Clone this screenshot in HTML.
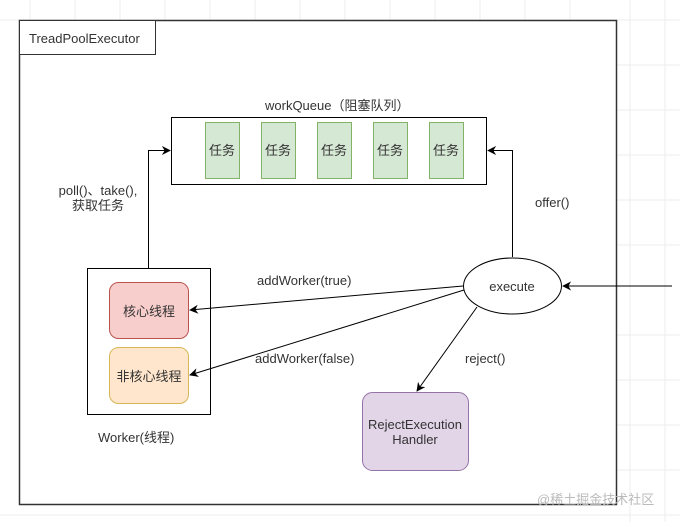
<!DOCTYPE html>
<html><head><meta charset="utf-8"><style>
body{margin:0;background:#fff}
svg text{font-family:"Liberation Sans","Noto Sans CJK SC",sans-serif;font-size:13px;fill:#333}
</style></head><body>
<svg width="680" height="522" viewBox="0 0 680 522" xmlns="http://www.w3.org/2000/svg">
<defs>
<marker id="a" viewBox="0 0 10 10" refX="9" refY="5" markerWidth="9" markerHeight="9" orient="auto" markerUnits="userSpaceOnUse"><path d="M0,0 L10,5 L0,10 L3,5 z" fill="#000"/></marker>
</defs>
<g stroke="#eee" stroke-width="1">
<line x1="0" y1="20" x2="680" y2="20"/><line x1="0" y1="515" x2="680" y2="515"/>
<line x1="630" y1="0" x2="630" y2="522"/><line x1="665" y1="0" x2="665" y2="522"/>
<line x1="616" y1="65" x2="680" y2="65"/><line x1="616" y1="110" x2="680" y2="110"/><line x1="616" y1="155" x2="680" y2="155"/><line x1="616" y1="200" x2="680" y2="200"/><line x1="616" y1="245" x2="680" y2="245"/><line x1="616" y1="335" x2="680" y2="335"/><line x1="616" y1="380" x2="680" y2="380"/><line x1="616" y1="425" x2="680" y2="425"/><line x1="616" y1="470" x2="680" y2="470"/>
<line x1="30" y1="0" x2="30" y2="20"/><line x1="75" y1="0" x2="75" y2="20"/><line x1="120" y1="0" x2="120" y2="20"/><line x1="165" y1="0" x2="165" y2="20"/><line x1="210" y1="0" x2="210" y2="20"/><line x1="255" y1="0" x2="255" y2="20"/><line x1="300" y1="0" x2="300" y2="20"/><line x1="345" y1="0" x2="345" y2="20"/><line x1="390" y1="0" x2="390" y2="20"/><line x1="435" y1="0" x2="435" y2="20"/><line x1="480" y1="0" x2="480" y2="20"/><line x1="525" y1="0" x2="525" y2="20"/><line x1="570" y1="0" x2="570" y2="20"/>
</g>
<rect x="19.5" y="20.5" width="597" height="484" fill="#fff" stroke="#333" stroke-width="1.5"/>
<rect x="19.5" y="20.5" width="136" height="34" fill="#fff" stroke="#333"/>
<text x="29" y="43">TreadPoolExecutor</text>
<text x="265" y="110">workQueue（阻塞队列）</text>
<rect x="171.5" y="117.5" width="315" height="67" fill="#fff" stroke="#000"/>
<g fill="#d5e8d4" stroke="#82b366">
<rect x="205.5" y="122.5" width="34" height="56"/><rect x="261.5" y="122.5" width="34" height="56"/><rect x="317.5" y="122.5" width="34" height="56"/><rect x="373.5" y="122.5" width="34" height="56"/><rect x="429.5" y="122.5" width="34" height="56"/>
</g>
<g text-anchor="middle"><text x="222" y="155">任务</text><text x="278" y="155">任务</text><text x="334" y="155">任务</text><text x="390" y="155">任务</text><text x="446" y="155">任务</text></g>
<polyline points="148.5,268 148.5,150.5 170,150.5" fill="none" stroke="#000" marker-end="url(#a)"/>
<text x="98" y="195" text-anchor="middle">poll()、take(),</text>
<text x="98" y="210" text-anchor="middle">获取任务</text>
<polyline points="512.5,257 512.5,150.5 488,150.5" fill="none" stroke="#000" marker-end="url(#a)"/>
<text x="535" y="207">offer()</text>
<rect x="87.5" y="268.5" width="123" height="146" fill="#fff" stroke="#000"/>
<rect x="109.5" y="282.5" width="79" height="56" rx="9" fill="#f8cecc" stroke="#b85450"/>
<rect x="109.5" y="347.5" width="79" height="56" rx="9" fill="#ffe6cc" stroke="#d6b656"/>
<text x="149" y="316" text-anchor="middle">核心线程</text>
<text x="149" y="381" text-anchor="middle">非核心线程</text>
<text x="98" y="442">Worker(线程)</text>
<ellipse cx="512.5" cy="286" rx="49" ry="28" fill="#fff" stroke="#000"/>
<text x="512" y="291" text-anchor="middle">execute</text>
<line x1="672" y1="286" x2="563" y2="286" stroke="#000" marker-end="url(#a)"/>
<line x1="463" y1="286" x2="190" y2="310" stroke="#000" marker-end="url(#a)"/>
<line x1="464" y1="290" x2="190" y2="375" stroke="#000" marker-end="url(#a)"/>
<text x="257" y="285">addWorker(true)</text>
<text x="255" y="363">addWorker(false)</text>
<line x1="477" y1="307" x2="417" y2="391" stroke="#000" marker-end="url(#a)"/>
<text x="465" y="363">reject()</text>
<rect x="362.5" y="392.5" width="106" height="78" rx="10" fill="#e1d5e7" stroke="#9673a6"/>
<text x="415" y="429" text-anchor="middle">RejectExecution</text>
<text x="415" y="444" text-anchor="middle">Handler</text>
<text x="537" y="504" style="font-size:13px;fill:#bbb">@稀土掘金技术社区</text>
</svg>
</body></html>
